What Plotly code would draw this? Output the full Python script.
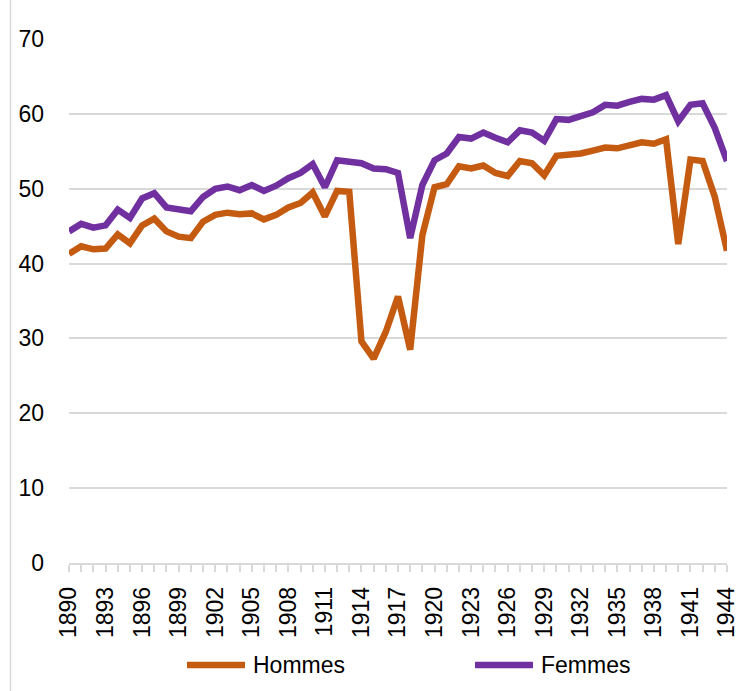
import plotly.graph_objects as go

years = list(range(1890, 1945))
hommes = [41.3, 42.3, 41.9, 42.0, 43.9, 42.7, 45.1, 46.0, 44.3, 43.6,
          43.4, 45.6, 46.5, 46.8, 46.6, 46.7, 45.9, 46.5, 47.5, 48.1,
          49.5, 46.3, 49.7, 49.6, 29.6, 27.3, 30.9, 35.6, 28.5, 43.8,
          50.2, 50.6, 53.0, 52.7, 53.1, 52.1, 51.7, 53.7, 53.4, 51.8,
          54.4, 54.5, 54.7, 55.1, 55.5, 55.4, 55.9, 56.2, 56.0, 56.6,
          42.6, 53.9, 53.7, 48.9, 41.7]
femmes = [44.3, 45.3, 44.8, 45.1, 47.2, 46.1, 48.7, 49.4, 47.5, 47.2,
          47.0, 48.9, 50.0, 50.3, 49.8, 50.5, 49.7, 50.4, 51.4, 52.1,
          53.3, 50.2, 53.8, 53.6, 53.4, 52.7, 52.6, 52.1, 43.4, 50.5,
          53.8, 54.7, 56.9, 56.7, 57.5, 56.8, 56.2, 57.8, 57.5, 56.4,
          59.3, 59.2, 59.7, 60.2, 61.2, 61.1, 61.6, 62.0, 61.9, 62.5,
          59.0, 61.2, 61.4, 58.1, 53.7]
series_names = ["Hommes", "Femmes"]
colors = ["#C55A11", "#7030A0"]
tick_years = list(range(1890, 1945, 3))
y_ticks = list(range(0, 71, 10))

W, H = 741, 691
L, R, T, B = 69, 14, 39, 128
pw, ph = W - L - R, H - T - B

def px_x(p):
    return (p - L) / pw

def px_y(p):
    return (H - B - p) / ph

fig = go.Figure()
for name, vals, c in zip(series_names, [hommes, femmes], colors):
    fig.add_trace(go.Scatter(x=years, y=vals, mode="lines", name=name,
                             line=dict(color=c, width=6.5), showlegend=False))

tick_font = dict(family="Liberation Sans, Arial, sans-serif", size=23, color="#000000")
leg_font = dict(family="Liberation Sans, Arial, sans-serif", size=23, color="#000000")

fig.update_layout(
    width=W, height=H,
    margin=dict(l=L, r=R, t=T, b=B, pad=0, autoexpand=False),
    paper_bgcolor="white", plot_bgcolor="white",
    font=tick_font,
    xaxis=dict(range=[1889.9995, 1944.0005], tickmode="array", tickvals=tick_years,
               ticktext=[str(y) for y in tick_years], tickangle=-90,
               ticks="outside", ticklen=7, tickcolor="#d9d9d9", tickwidth=1.5,
               minor=dict(dtick=1, tick0=1890, ticks="outside", ticklen=7,
                          tickcolor="#d9d9d9", tickwidth=1.5, showgrid=False),
               showline=True, linecolor="#d9d9d9", linewidth=1.5,
               showgrid=False, zeroline=False, ticklabelstandoff=6,
               ticklabeloverflow="allow", automargin=False),
    yaxis=dict(range=[0, 70], tickvals=y_ticks, showgrid=True,
               gridcolor="#d9d9d9", gridwidth=1.5, zeroline=False,
               showline=False, ticks="", ticklabelstandoff=24, automargin=False),
)

# chart-area border on the left
fig.add_shape(type="line", xref="paper", yref="paper",
              x0=px_x(10.5), x1=px_x(10.5), y0=px_y(0), y1=px_y(H),
              line=dict(color="#d9d9d9", width=1.5))

# custom legend
leg_y = 665
for name, c, x0, x1, tx in [("Hommes", colors[0], 187, 245, 251),
                            ("Femmes", colors[1], 475, 533, 539)]:
    fig.add_shape(type="line", xref="paper", yref="paper",
                  x0=px_x(x0), x1=px_x(x1), y0=px_y(leg_y), y1=px_y(leg_y),
                  line=dict(color=c, width=6.5))
    fig.add_annotation(text=name, xref="paper", yref="paper",
                       x=px_x(tx), y=px_y(leg_y), xanchor="left", yanchor="middle",
                       showarrow=False, font=leg_font)

fig.write_html("out.html", config={"displayModeBar": False},
               post_script="document.body.style.margin='0';"
                           "document.body.style.overflow='hidden';")
